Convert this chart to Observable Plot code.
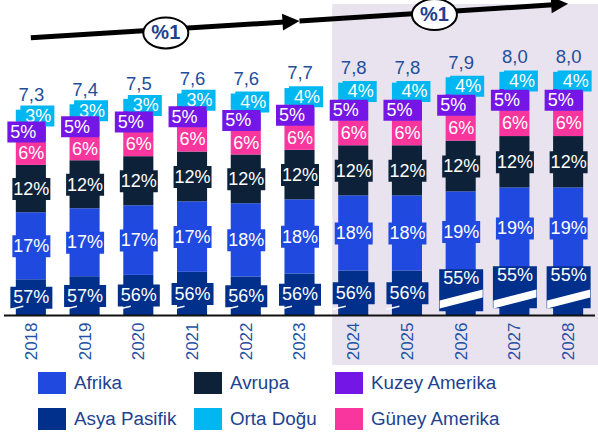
<!DOCTYPE html>
<html><head><meta charset="utf-8">
<script src="https://cdn.jsdelivr.net/npm/d3@7"></script>
<script src="https://cdn.jsdelivr.net/npm/@observablehq/plot@0.6"></script>
<style>
body{margin:0;background:#fff;font-family:"Liberation Sans",Arial,sans-serif;}
#wrap{position:relative;width:598px;height:436px;overflow:hidden;}
#legend{position:absolute;left:0;top:366px;width:598px;height:70px;}
.item{position:absolute;display:flex;align-items:center;height:22px;font-size:18.8px;color:#1E4290;white-space:nowrap;}
.sw{width:28px;height:22px;margin-right:8px;flex:none;}
</style></head><body>
<div id="wrap"><div id="chart"></div><div id="legend"></div></div>
<script>
// ---- data ----
const years = ["2018","2019","2020","2021","2022","2023","2024","2025","2026","2027","2028"];
const totals = [7.3, 7.4, 7.5, 7.6, 7.6, 7.7, 7.8, 7.8, 7.9, 8.0, 8.0];
const totalLabels = ["7,3","7,4","7,5","7,6","7,6","7,7","7,8","7,8","7,9","8,0","8,0"];
const regions = ["Asya Pasifik","Afrika","Avrupa","Güney Amerika","Kuzey Amerika","Orta Doğu"];
const asyaPasifik  = [57, 57, 56, 56, 56, 56, 56, 56, 55, 55, 55];
const afrika       = [17, 17, 17, 17, 18, 18, 18, 18, 19, 19, 19];
const avrupa       = [12, 12, 12, 12, 12, 12, 12, 12, 12, 12, 12];
const guneyAmerika = [6, 6, 6, 6, 6, 6, 6, 6, 6, 6, 6];
const kuzeyAmerika = [5, 5, 5, 5, 5, 5, 5, 5, 5, 5, 5];
const ortaDogu     = [3, 3, 3, 3, 4, 4, 4, 4, 4, 4, 4];
const breakYears = ["2026","2027","2028"];
const forecastFrom = "2024";
const legendOrder = ["Afrika","Avrupa","Kuzey Amerika","Asya Pasifik","Orta Doğu","Güney Amerika"];
// growth annotations (arrows + "%1" badges)
const trendFrom  = ["2018","2023"];
const trendTo    = ["2023","2028"];
const trendY1    = [8.63, 8.94];
const trendY2    = [8.94, 9.26];
const badgeAt    = ["2020","2025"];
const badgeY     = [8.73, 9.07];
const badgeText  = ["%1","%1"];

// ---- styles ----
const colors = ["#00308C","#2049E0","#0D2238","#F8369D","#7316E6","#00B7F1"];
const colorOf = Object.fromEntries(regions.map((r,i)=>[r, colors[i]]));
const yMin = 3.5, yMax = 9.33;
const FONT = '"Liberation Sans", Arial, sans-serif';

const series = [asyaPasifik, afrika, avrupa, guneyAmerika, kuzeyAmerika, ortaDogu]
  .map((values, j) => ({name: regions[j], values}));

const rows = [];
years.forEach((year, i) => {
  const sum = d3.sum(series, s => s.values[i]);
  let acc = 0;
  series.forEach(s => {
    const v = totals[i] * s.values[i] / sum;
    rows.push({year, region: s.name, pct: s.values[i], label: s.values[i] + "%",
      y1: acc, y2: acc + v, mid: acc + v / 2, brk: breakYears.includes(year)});
    acc += v;
  });
});
const tot = years.map((year, i) => ({year, total: totals[i], label: totalLabels[i]}));
const trends = trendFrom.map((f, i) => ({from: f, to: trendTo[i], y1: trendY1[i], y2: trendY2[i]}));
const badges = badgeAt.map((b, i) => ({at: b, y: badgeY[i], text: badgeText[i]}));

const byRegion = r => rows.filter(d => d.region === r);
const asiaNormal = byRegion("Asya Pasifik").filter(d => !d.brk).map(d => ({...d, ly: (yMin + d.y2) / 2}));
const asiaBreak = byRegion("Asya Pasifik").filter(d => d.brk);

function rectSym(w, h, top) {
  const t = top == null ? -h / 2 : top;
  return {draw(ctx) { ctx.moveTo(-w/2, t); ctx.lineTo(w/2, t); ctx.lineTo(w/2, t + h); ctx.lineTo(-w/2, t + h); ctx.closePath(); }};
}
const slashSym = {draw(ctx) { ctx.moveTo(-21.5, 1.5); ctx.lineTo(21.5, -9.5); ctx.lineTo(21.5, -1.5); ctx.lineTo(-21.5, 9.5); ctx.closePath(); }};
const smallSlashSym = {draw(ctx) { ctx.moveTo(-21, 3); ctx.lineTo(-8, 0); ctx.lineTo(-8, 1.5); ctx.lineTo(-21, 4.5); ctx.closePath(); }};
function ellipseSym(a, b) {
  const k = 0.5523;
  return {draw(ctx) {
    ctx.moveTo(a, 0);
    ctx.bezierCurveTo(a, b*k, a*k, b, 0, b);
    ctx.bezierCurveTo(-a*k, b, -a, b*k, -a, 0);
    ctx.bezierCurveTo(-a, -b*k, -a*k, -b, 0, -b);
    ctx.bezierCurveTo(a*k, -b, a, -b*k, a, 0);
    ctx.closePath();
  }};
}
const bwOf = x => typeof x.bandwidth === "function" ? x.bandwidth() : (x.bandwidth || 0);

function shading(index, scales, values, dims) {
  const x = scales.x;
  const left = x(forecastFrom) - 6;
  return d3.create("svg:rect").attr("x", left).attr("y", 4)
    .attr("width", dims.width - left).attr("height", dims.height - 5)
    .attr("fill", "#E9E3F0").node();
}
function arrows(index, scales) {
  const {x, y} = scales;
  const bw = bwOf(x);
  const g = d3.create("svg:g");
  for (const a of trends) {
    const x1 = x(a.from) + bw/2, y1 = y(a.y1), x2 = x(a.to) + bw/2, y2 = y(a.y2);
    const ang = Math.atan2(y2 - y1, x2 - x1), L = 17, W = 8.5;
    const c = Math.cos(ang), s = Math.sin(ang);
    const bx = x2 - L*c, by = y2 - L*s;
    g.append("line").attr("x1", x1).attr("y1", y1).attr("x2", bx + 2*c).attr("y2", by + 2*s)
      .attr("stroke", "#000").attr("stroke-width", 5);
    g.append("path").attr("d", `M${x2},${y2}L${bx - W*s},${by + W*c}L${bx + W*s},${by - W*c}Z`).attr("fill", "#000");
  }
  return g.node();
}

const labelText = (data, opts) => Plot.text(data, {x: "year", text: "label", fill: "white", fontSize: 18, ...opts});
const marks = [
  shading,
  Plot.barY(rows, {x: "year", y1: "y1", y2: "y2", fill: "region", clip: true}),
  // label boxes, lower segments
  Plot.dot(asiaNormal, {x: "year", y: "ly", fill: "region", r: 1, symbol: rectSym(42, 22)}),
  Plot.dot(asiaBreak, {x: "year", y: "y2", dy: 6, fill: "region", r: 1, symbol: rectSym(44, 42, -9)}),
  Plot.dot(byRegion("Afrika"), {x: "year", y: "mid", fill: "region", r: 1, symbol: rectSym(38, 22)}),
  Plot.dot(byRegion("Avrupa"), {x: "year", y: "mid", fill: "region", r: 1, symbol: rectSym(38, 22)}),
  Plot.dot(asiaBreak, {x: "year", y: () => yMin, dy: -16.5, fill: "white", r: 1, symbol: slashSym}),
  Plot.dot(asiaNormal, {x: "year", y: () => yMin, dy: -10, fill: "white", r: 1, symbol: smallSlashSym}),
  Plot.ruleY([yMin], {stroke: "#111", strokeWidth: 2}),
  labelText(asiaNormal, {y: "ly"}),
  labelText(asiaBreak, {y: "y2", dy: 6}),
  labelText(byRegion("Afrika"), {y: "mid"}),
  labelText(byRegion("Avrupa"), {y: "mid"}),
  labelText(byRegion("Güney Amerika"), {y: "mid"}),
  Plot.dot(byRegion("Orta Doğu"), {x: "year", y: "mid", dx: 6, fill: "region", r: 1, symbol: rectSym(34, 21)}),
  labelText(byRegion("Orta Doğu"), {y: "mid", dx: 7}),
  Plot.dot(byRegion("Kuzey Amerika"), {x: "year", y: "mid", dx: -5, fill: "region", r: 1, symbol: rectSym(38, 21)}),
  labelText(byRegion("Kuzey Amerika"), {y: "mid", dx: -8}),
  Plot.text(tot, {x: "year", y: "total", text: "label", dy: -15, fontSize: 18.5, fill: "#1F4E9C"}),
  arrows,
  Plot.dot(badges, {x: "at", y: "y", dx: 27, r: 1, symbol: ellipseSym(22.5, 15.5), fill: "white", stroke: "#000", strokeWidth: 2}),
  Plot.text(badges, {x: "at", y: "y", dx: 27, text: "text", fontSize: 20, fontWeight: "bold", fill: "#1F3F8F"})
];
if (Plot.axisX) marks.push(Plot.axisX({tickRotate: -90, tickSize: 0, tickPadding: 7, fontSize: 17, color: "#2352A3", label: null}));

const chart = Plot.plot({
  width: 598, height: 366,
  marginTop: 0, marginBottom: 51, marginLeft: 4, marginRight: 3,
  style: {fontFamily: FONT, background: "transparent", overflow: "visible", color: "#2352A3"},
  x: Plot.axisX ? {domain: years, paddingInner: 0.44, paddingOuter: 0.22, round: false, label: null}
                : {domain: years, paddingInner: 0.44, paddingOuter: 0.22, round: false, label: null, tickRotate: -90, tickSize: 0, tickPadding: 7},
  y: {domain: [yMin, yMax], axis: null},
  color: {domain: regions, range: colors},
  marks
});
document.getElementById("chart").appendChild(chart);

// legend
const legend = document.getElementById("legend");
const colX = [38, 194, 335], rowY = [6, 42];
legendOrder.forEach((name, k) => {
  const it = document.createElement("div");
  it.className = "item";
  it.style.left = colX[k % 3] + "px";
  it.style.top = rowY[Math.floor(k / 3)] + "px";
  const sw = document.createElement("div");
  sw.className = "sw"; sw.style.background = colorOf[name];
  const tx = document.createElement("span"); tx.textContent = name;
  it.appendChild(sw); it.appendChild(tx);
  legend.appendChild(it);
});
</script>
</body></html>
